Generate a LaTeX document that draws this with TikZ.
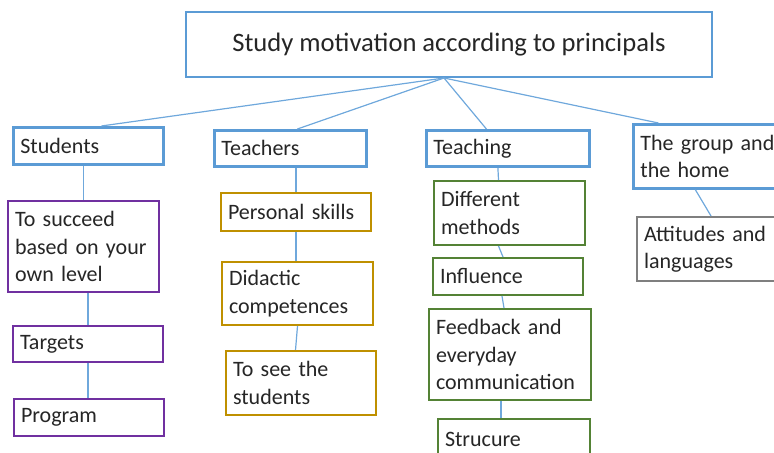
\documentclass[tikz,border=0pt]{standalone}
\usepackage{fontspec}
\setmainfont{Carlito}
\usetikzlibrary{positioning}

\definecolor{boxblue}{HTML}{5B9BD5}
\definecolor{linkblue}{HTML}{6FA8DC}
\definecolor{boxpurple}{HTML}{7030A0}
\definecolor{boxgold}{HTML}{BF9000}
\definecolor{boxgreen}{HTML}{548235}
\definecolor{boxgray}{HTML}{7F7F7F}
\definecolor{ink}{HTML}{262626}

\tikzset{
  box/.style={draw, fill=white, text=ink, anchor=north west, align=left,
    inner xsep=3.5pt, inner ysep=2pt, line width=1pt,
    font=\fontsize{11}{13.7}\selectfont},
  headbox/.style={box, draw=boxblue, line width=1.4pt},
  link/.style={draw=linkblue, line width=0.6pt}
}

\begin{document}
\begin{tikzpicture}[x=0.5pt,y=-0.5pt]
\useasboundingbox (0,0) rectangle (774,453);
\clip (0,0) rectangle (774,453);

% title and the four main themes
\node[box, draw=boxblue, align=center, minimum width=263pt, minimum height=32.5pt,
  font=\fontsize{13.3}{16}\selectfont] (title) at (185,11) {Study motivation according to principals};
\node[headbox, text width=68pt, minimum height=18.5pt] (stud) at (12,126) {Students};
\node[headbox, text width=69pt, minimum height=18pt] (teach) at (213,129) {Teachers};
\node[headbox, text width=74.5pt, minimum height=18pt] (tching) at (425,129) {Teaching};
\node[headbox, text width=68pt, minimum height=32pt] (group) at (632,123) {The group and\\the home};

% students
\node[box, draw=boxpurple, text width=68.5pt, minimum height=45.5pt] (succeed) at (7,200) {To succeed\\based on your\\own level};
\node[box, draw=boxpurple, text width=68pt, minimum height=18pt] (targets) at (12,325) {Targets};
\node[box, draw=boxpurple, text width=68pt, minimum height=18.5pt] (program) at (13,398) {Program};

% teachers
\node[box, draw=boxgold, text width=68pt, minimum height=19pt] (personal) at (220,192) {Personal skills};
\node[box, draw=boxgold, text width=68.5pt, minimum height=31.5pt] (didactic) at (221,261) {Didactic\\competences};
\node[box, draw=boxgold, text width=68pt, minimum height=32pt] (see) at (225,350) {To see the\\students};

% teaching
\node[box, draw=boxgreen, text width=68.5pt, minimum height=32pt] (methods) at (433,180) {Different\\methods};
\node[box, draw=boxgreen, text width=68pt, minimum height=18.5pt] (influence) at (432,257) {Influence};
\node[box, draw=boxgreen, text width=74pt, minimum height=45.5pt] (feedback) at (428,308) {Feedback and\\everyday\\communication};
\node[box, draw=boxgreen, text width=69pt, minimum height=20pt] (strucure) at (437,418) {Strucure};

% the group and the home
\node[box, draw=boxgray, text width=64pt, minimum height=32pt] (attitudes) at (636,216) {Attitudes and\\languages};

% links from the title
\draw[link] ([xshift=-2.5pt]title.south) -- ([xshift=6.5pt]stud.north);
\draw[link] ([xshift=-2.5pt]title.south) -- ([xshift=3.5pt]teach.north);
\draw[link] ([xshift=-2.5pt]title.south) -- ([xshift=-10.75pt]tching.north);
\draw[link] ([xshift=-2.5pt]title.south) -- ([xshift=-25pt]group.north);

% links down each column
\draw[link] (succeed.north |- stud.south) -- (succeed.north);
\draw[link] (targets.north |- succeed.south) -- (targets.north);
\draw[link] (targets.south) -- (targets.south |- program.north);
\draw[link] (personal.north |- teach.south) -- (personal.north);
\draw[link] (personal.south) -- (personal.south |- didactic.north);
\draw[link] (didactic.south) -- ([xshift=-1pt]didactic.south |- see.north);
\draw[link] ([xshift=-5pt]tching.south) -- ([xshift=-5.5pt]methods.north);
\draw[link] ([xshift=-5.5pt]methods.south) -- ([xshift=-2.5pt]influence.north);
\draw[link] ([xshift=-3pt]influence.south) -- ([xshift=-3pt]feedback.north);
\draw[link] ([xshift=-4.5pt]feedback.south) -- ([xshift=-6.5pt]strucure.north);
\draw[link] ([xshift=-6.5pt]group.south) -- ([xshift=1.5pt]attitudes.north);
\end{tikzpicture}
\end{document}
